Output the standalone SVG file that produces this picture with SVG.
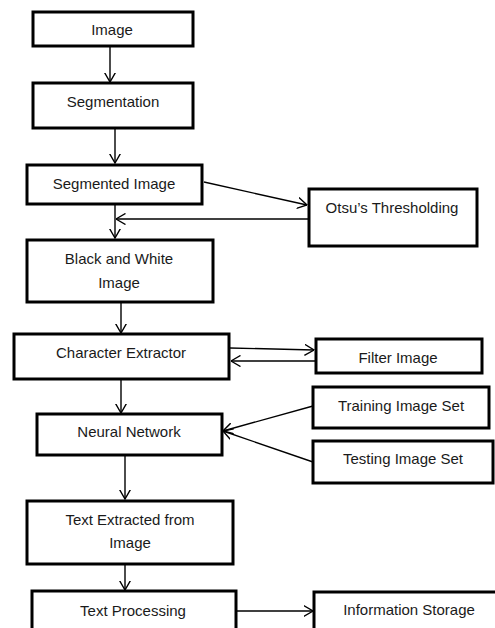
<svg xmlns="http://www.w3.org/2000/svg" width="495" height="628" viewBox="0 0 495 628">
<style>
.box{fill:#fff;stroke:#000;stroke-width:3}
.t{font-family:"Liberation Sans",Arial,sans-serif;font-size:15px;fill:#1a1a1a;text-anchor:middle}
.c{fill:none;stroke:#000;stroke-width:1.4}
</style>
<defs>
<marker id="ah" viewBox="0 0 10 12" refX="9.5" refY="6" markerWidth="10" markerHeight="12" markerUnits="userSpaceOnUse" orient="auto">
<path d="M0,0.5 L9.5,6 L0,11.5" fill="none" stroke="#000" stroke-width="1.4"/>
</marker>
</defs>
<rect width="495" height="628" fill="#fff"/>
<g id="connectors">
<line class="c" x1="110" y1="46" x2="110" y2="82" marker-end="url(#ah)"/>
<line class="c" x1="115" y1="128" x2="115" y2="163" marker-end="url(#ah)"/>
<line class="c" x1="204" y1="182" x2="307" y2="205" marker-end="url(#ah)"/>
<line class="c" x1="308" y1="219" x2="116" y2="219" marker-end="url(#ah)"/>
<line class="c" x1="115" y1="204" x2="115" y2="238" marker-end="url(#ah)"/>
<line class="c" x1="121" y1="302" x2="121" y2="333" marker-end="url(#ah)"/>
<line class="c" x1="230" y1="348" x2="314" y2="350" marker-end="url(#ah)"/>
<line class="c" x1="315" y1="361" x2="231" y2="361" marker-end="url(#ah)"/>
<line class="c" x1="121" y1="379" x2="121" y2="413" marker-end="url(#ah)"/>
<line class="c" x1="313" y1="406" x2="223" y2="431" marker-end="url(#ah)"/>
<line class="c" x1="313" y1="462" x2="223" y2="431" marker-end="url(#ah)"/>
<line class="c" x1="125" y1="455" x2="125" y2="499" marker-end="url(#ah)"/>
<line class="c" x1="125" y1="564" x2="125" y2="590" marker-end="url(#ah)"/>
<line class="c" x1="236" y1="611" x2="313" y2="611" marker-end="url(#ah)"/>
</g>
<g id="image"><rect class="box" x="33" y="12" width="160" height="34"/><text class="t" x="112" y="35">Image</text></g>
<g id="segmentation"><rect class="box" x="33" y="83" width="160" height="45"/><text class="t" x="113" y="107">Segmentation</text></g>
<g id="segmented-image"><rect class="box" x="27" y="165" width="175" height="39"/><text class="t" x="114" y="189">Segmented Image</text></g>
<g id="otsu"><rect class="box" x="309" y="189" width="168" height="57"/><text class="t" x="392" y="213">Otsu’s Thresholding</text></g>
<g id="black-white"><rect class="box" x="27" y="240" width="186" height="62"/><text class="t" x="119" y="264">Black and White</text><text class="t" x="119" y="288">Image</text></g>
<g id="character-extractor"><rect class="box" x="14" y="334" width="215" height="45"/><text class="t" x="121" y="358">Character Extractor</text></g>
<g id="filter-image"><rect class="box" x="316" y="339" width="166" height="34"/><text class="t" x="398" y="363">Filter Image</text></g>
<g id="neural-network"><rect class="box" x="37" y="414" width="185" height="41"/><text class="t" x="129" y="437">Neural Network</text></g>
<g id="training-set"><rect class="box" x="313" y="387" width="176" height="41"/><text class="t" x="401" y="411">Training Image Set</text></g>
<g id="testing-set"><rect class="box" x="313" y="441" width="180" height="42"/><text class="t" x="403" y="464">Testing Image Set</text></g>
<g id="text-extracted"><rect class="box" x="27" y="501" width="206" height="63"/><text class="t" x="130" y="525">Text Extracted from</text><text class="t" x="130" y="548">Image</text></g>
<g id="text-processing"><rect class="box" x="32" y="591" width="204" height="45"/><text class="t" x="133" y="616">Text Processing</text></g>
<g id="information-storage"><rect class="box" x="314" y="592" width="186" height="45"/><text class="t" x="409" y="615">Information Storage</text></g>
</svg>
